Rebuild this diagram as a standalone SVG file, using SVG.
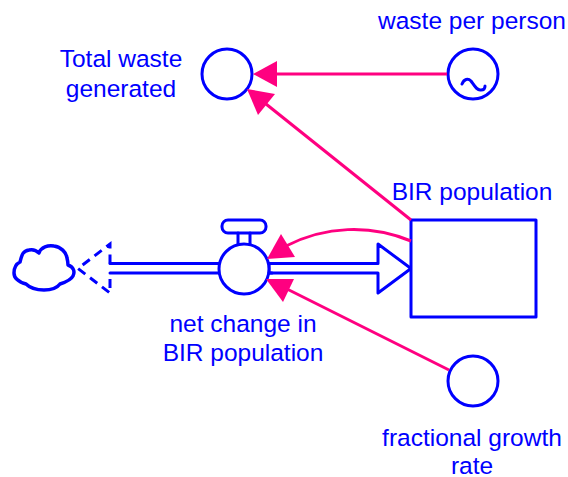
<svg xmlns="http://www.w3.org/2000/svg" width="568" height="477" viewBox="0 0 568 477">
<style>
text{font-family:"Liberation Sans",Arial,sans-serif;font-size:24.500px;fill:#0000ff;text-anchor:middle}
.s{fill:#fff;stroke:#0000ff;stroke-width:3;stroke-linejoin:round;stroke-linecap:round}
.n{fill:none;stroke:#0000ff;stroke-width:3;stroke-linejoin:round;stroke-linecap:round}
.c{fill:none;stroke:#ff0080;stroke-width:3}
.h{fill:#ff0080;stroke:none}
</style>
<rect width="568" height="477" fill="#fff"/>
<g id="flow">
<path class="n" d="M110 263.500H219M110 273H219"/>
<path class="s" d="M269 263.500H378V244L411 268.500L378 293V273H269Z"/>
<path d="M110 263.500V244L78 268.500L110 293V273" fill="none" stroke="#0000ff" stroke-width="3" stroke-dasharray="9 6"/>
</g>
<g id="cloud"><path class="n" style="stroke-width:3.500" d="M20 262C22 254 23 251 29 250C33 249 36 250 39 253C41 247 48 245 54 246C61 247 66 252 67 258C68 262 68 263 68 265C74 267 75 272 73 276C71 280 66 282 60 284C57 288 52 290 44 290C36 290 30 288 26 284C19 282 14 279 14 273C14 268 16 264 20 262Z"/></g>
<g id="valve">
<rect class="s" x="222" y="220" width="44" height="13" rx="6"/>
<path class="n" d="M238 233V245M250 233V245"/>
<circle class="s" cx="244" cy="269" r="25"/>
<path class="n" d="M269 263.500H272M269 273H272"/>
</g>
<g id="net-change-label"><text x="243" y="332">net change in</text><text x="243" y="361">BIR population</text></g>
<g id="bir-population"><rect class="s" x="411" y="220" width="125" height="97"/><text x="472" y="200">BIR population</text></g>
<g id="total-waste"><circle class="s" cx="227" cy="74" r="25"/><text x="121" y="67">Total waste</text><text x="121" y="97">generated</text></g>
<g id="waste-per-person"><circle class="s" cx="473" cy="74" r="25"/><path class="n" d="M462 84C464 79 468 78 471 81C474 85 477 91 481 90C484 90 485 88 485 86"/><text x="472" y="29">waste per person</text></g>
<g id="fractional-growth-rate"><circle class="s" cx="473" cy="381" r="25"/><text x="472" y="446">fractional growth</text><text x="472" y="474">rate</text></g>
<g id="connectors">
<path class="c" d="M447 74H275"/><path class="h" d="M253 74L277 61V87Z"/>
<path class="c" d="M411 220L266 104"/><path class="h" d="M247 89L275 94L258 115Z"/>
<path class="c" d="M411 241C370 224 325 226 286 246"/><path class="h" d="M267 259L281 234L295 257Z"/>
<path class="c" d="M449 370L287 289"/><path class="h" d="M266 279H294L283 302Z"/>
</g>
</svg>
